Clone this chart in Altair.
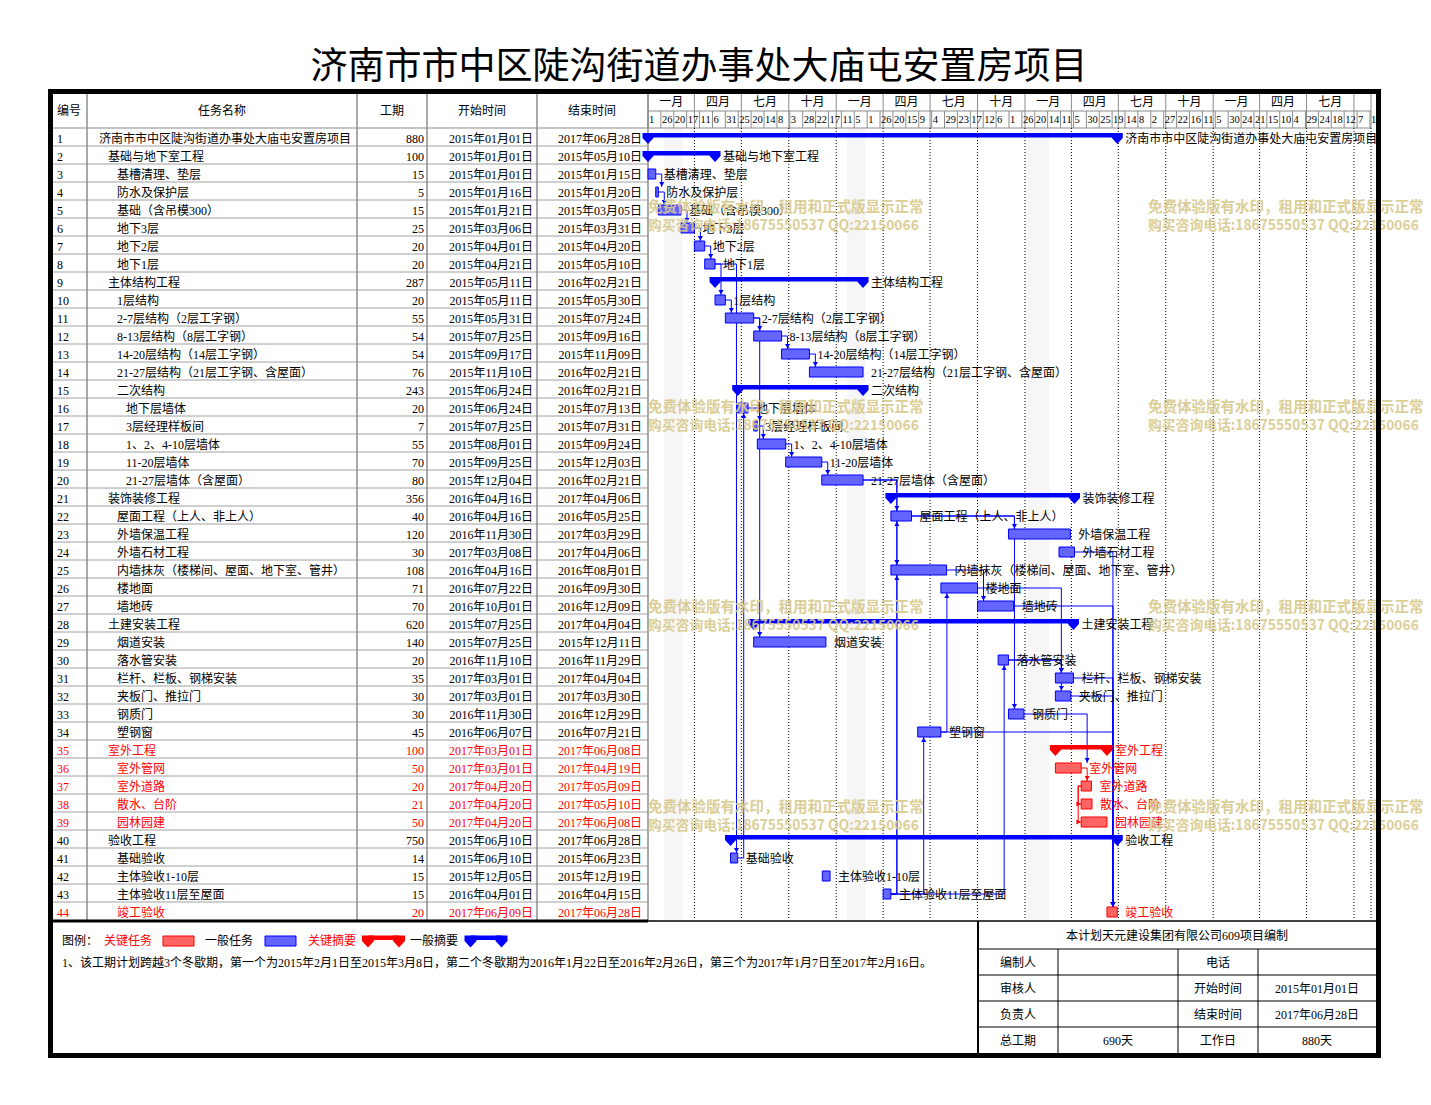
import altair as alt
import pandas as pd
import numpy as np

W, H = 1415, 1080
CJK = "Noto Sans CJK SC"
TXT = "Liberation Serif, Noto Sans CJK SC"
BLUE, RED = "#0000ff", "#ff0000"
BLUE_FILL, RED_FILL = "#6464ff", "#ff6464"
GRID = "#8c8c8c"
WM = "#d8c98c"

title_text = "济南市市中区陡沟街道办事处大庙屯安置房项目"

task_ids = list(range(1, 45))
task_names = [
    "济南市市中区陡沟街道办事处大庙屯安置房项目", "基础与地下室工程", "基槽清理、垫层", "防水及保护层",
    "基础（含吊模300）", "地下3层", "地下2层", "地下1层", "主体结构工程", "1层结构",
    "2-7层结构（2层工字钢）", "8-13层结构（8层工字钢）", "14-20层结构（14层工字钢）",
    "21-27层结构（21层工字钢、含屋面）", "二次结构", "地下层墙体", "3层经理样板间",
    "1、2、4-10层墙体", "11-20层墙体", "21-27层墙体（含屋面）", "装饰装修工程",
    "屋面工程（上人、非上人）", "外墙保温工程", "外墙石材工程",
    "内墙抹灰（楼梯间、屋面、地下室、管井）", "楼地面", "墙地砖", "土建安装工程", "烟道安装",
    "落水管安装", "栏杆、栏板、钢梯安装", "夹板门、推拉门", "钢质门", "塑钢窗", "室外工程",
    "室外管网", "室外道路", "散水、台阶", "园林园建", "验收工程", "基础验收", "主体验收1-10层",
    "主体验收11层至屋面", "竣工验收"]
task_levels = [0, 1, 2, 2, 2, 2, 2, 2, 1, 2, 2, 2, 2, 2, 2, 3, 3, 3, 3, 3, 1, 2, 2, 2, 2, 2, 2,
               1, 2, 2, 2, 2, 2, 2, 1, 2, 2, 2, 2, 1, 2, 2, 2, 2]
durations = [880, 100, 15, 5, 15, 25, 20, 20, 287, 20, 55, 54, 54, 76, 243, 20, 7, 55, 70, 80,
             356, 40, 120, 30, 108, 71, 70, 620, 140, 20, 35, 30, 30, 45, 100, 50, 20, 21, 50,
             750, 14, 15, 15, 20]
start_dates = [
    "2015-01-01", "2015-01-01", "2015-01-01", "2015-01-16", "2015-01-21", "2015-03-06",
    "2015-04-01", "2015-04-21", "2015-05-11", "2015-05-11", "2015-05-31", "2015-07-25",
    "2015-09-17", "2015-11-10", "2015-06-24", "2015-06-24", "2015-07-25", "2015-08-01",
    "2015-09-25", "2015-12-04", "2016-04-16", "2016-04-16", "2016-11-30", "2017-03-08",
    "2016-04-16", "2016-07-22", "2016-10-01", "2015-07-25", "2015-07-25", "2016-11-10",
    "2017-03-01", "2017-03-01", "2016-11-30", "2016-06-07", "2017-03-01", "2017-03-01",
    "2017-04-20", "2017-04-20", "2017-04-20", "2015-06-10", "2015-06-10", "2015-12-05",
    "2016-04-01", "2017-06-09"]
end_dates = [
    "2017-06-28", "2015-05-10", "2015-01-15", "2015-01-20", "2015-03-05", "2015-03-31",
    "2015-04-20", "2015-05-10", "2016-02-21", "2015-05-30", "2015-07-24", "2015-09-16",
    "2015-11-09", "2016-02-21", "2016-02-21", "2015-07-13", "2015-07-31", "2015-09-24",
    "2015-12-03", "2016-02-21", "2017-04-06", "2016-05-25", "2017-03-29", "2017-04-06",
    "2016-08-01", "2016-09-30", "2016-12-09", "2017-04-04", "2015-12-11", "2016-11-29",
    "2017-04-04", "2017-03-30", "2016-12-29", "2016-07-21", "2017-06-08", "2017-04-19",
    "2017-05-09", "2017-05-10", "2017-06-08", "2017-06-28", "2015-06-23", "2015-12-19",
    "2016-04-15", "2017-06-28"]
summary_ids = [1, 2, 9, 15, 21, 28, 35, 40]
critical_ids = [35, 36, 37, 38, 39, 44]

fs_links = [(3, 4), (4, 5), (5, 6), (6, 7), (7, 8), (8, 10), (8, 41), (41, 16), (10, 11),
            (11, 12), (12, 13), (13, 14), (11, 29), (16, 17), (17, 18), (18, 19), (19, 20),
            (20, 22), (20, 25), (43, 22), (43, 25), (43, 34), (43, 30), (22, 23), (22, 33),
            (25, 27), (34, 26), (26, 31), (30, 31), (30, 32), (36, 37), (24, 44), (27, 44),
            (31, 44), (32, 44), (34, 44)]
ff_links = [(33, 36)]
ss_links = [(37, 38), (37, 39)]

winter_starts = ["2015-02-01", "2016-01-22", "2017-01-07"]
winter_ends = ["2015-03-08", "2016-02-26", "2017-02-16"]

quarter_labels = ["一月", "四月", "七月", "十月", "一月", "四月", "七月", "十月",
                  "一月", "四月", "七月", "十月", "一月", "四月", "七月", ""]
day_labels = [1, 26, 20, 17, 11, 6, 31, 25, 20, 14, 8, 3, 28, 22, 17, 11, 5, 1, 26, 20, 15, 9,
              4, 29, 23, 17, 12, 6, 1, 26, 20, 14, 11, 5, 30, 25, 19, 14, 8, 2, 27, 22, 16, 11,
              5, 30, 24, 21, 15, 10, 4, 29, 24, 18, 12, 7, 1]

header_labels = ["编号", "任务名称", "工期", "开始时间", "结束时间"]
legend_note = ("1、该工期计划跨越3个冬歇期，第一个为2015年2月1日至2015年3月8日，第二个冬歇期为2016年1月22日"
               "至2016年2月26日，第三个为2017年1月7日至2017年2月16日。")
info_title = "本计划天元建设集团有限公司609项目编制"
info_cells = [["编制人", "", "电话", ""],
              ["审核人", "", "开始时间", "2015年01月01日"],
              ["负责人", "", "结束时间", "2017年06月28日"],
              ["总工期", "690天", "工作日", "880天"]]
wm_line1 = "免费体验版有水印，租用和正式版显示正常"
wm_line2 = "购买咨询电话:18675550537 QQ:22150066"

DOMAIN_END = pd.Timestamp("2018-11-03")

# ---------------------------------------------------------------- scales
XP = alt.Scale(domain=[0, W], range=[0, W], nice=False, zero=False)
YP = alt.Scale(domain=[0, H], range=[0, H], nice=False, zero=False)
ROW0, ROWH = 111.0, 18.0
YR = alt.Scale(domain=[-ROW0 / ROWH, (H - ROW0) / ROWH], range=[0, H], nice=False, zero=False)
XT = alt.Scale(type="utc",
               domain=[alt.DateTime(year=2015, month=1, date=1, utc=True),
                       alt.DateTime(year=2018, month=11, date=3, utc=True)],
               range=[640, 1363], nice=False)


def iso(ts):
    return pd.Timestamp(ts).strftime("%Y-%m-%dT%H:%M:%SZ")


def cn_date(ts):
    ts = pd.Timestamp(ts)
    return f"{ts.year}年{ts.month:02d}月{ts.day:02d}日"


# ---------------------------------------------------------------- task table
tasks = pd.DataFrame({"id": task_ids, "name": task_names, "level": task_levels,
                      "dur": durations, "start": start_dates, "end": end_dates})
s_dt = pd.to_datetime(tasks["start"])
e_dt = pd.to_datetime(tasks["end"]) + pd.Timedelta(days=1)
tasks["row"] = tasks["id"].astype(float)
tasks["s"] = s_dt.map(iso)
tasks["e"] = e_dt.map(iso)
tasks["is_sum"] = tasks["id"].isin(summary_ids)
tasks["crit"] = tasks["id"].isin(critical_ids)
tasks["tc"] = np.where(tasks["crit"], RED, "black")
tasks["fillc"] = np.where(tasks["crit"], RED_FILL, BLUE_FILL)
tasks["linec"] = np.where(tasks["crit"], RED, BLUE)
tasks["nx"] = 91 + 9 * tasks["level"]
tasks["id_txt"] = tasks["id"].astype(str)
tasks["dur_txt"] = tasks["dur"].astype(str)
tasks["start_txt"] = [cn_date(d) for d in tasks["start"]]
tasks["end_txt"] = [cn_date(d) for d in tasks["end"]]

S = dict(zip(tasks["id"], s_dt))
E = dict(zip(tasks["id"], e_dt))

# ---------------------------------------------------------------- links
GAP = pd.Timedelta(hours=278)
HALF = 4.5 / ROWH
AR = 2.8 / ROWH
BAR_SHIFT = 1.0 / ROWH
segs, arrows = [], []


def lcol(p, s):
    return RED if (p in critical_ids and s in critical_ids) else BLUE


for p, s in fs_links + ff_links:
    if (p, s) in ff_links:
        xv = max(E[p], E[s]) + GAP
    else:
        xv = max(E[p], S[s]) + GAP
    c = lcol(p, s)
    sign = 1 if s > p else -1
    yend = s + BAR_SHIFT - sign * (HALF + 0.5 / ROWH)
    segs.append((iso(E[p]), iso(xv), p + BAR_SHIFT, p + BAR_SHIFT, c))
    segs.append((iso(xv), iso(xv), p + BAR_SHIFT, yend, c))
    arrows.append((iso(xv), yend - sign * AR, "triangle-down" if sign > 0 else "triangle-up", c))

for p, s in ss_links:
    c = lcol(p, s)
    xv = S[p] - GAP / 2
    segs.append((iso(xv), iso(S[p]), p + BAR_SHIFT, p + BAR_SHIFT, c))
    segs.append((iso(xv), iso(xv), p + BAR_SHIFT, s + BAR_SHIFT, c))
    segs.append((iso(xv), iso(S[s]), s + BAR_SHIFT, s + BAR_SHIFT, c))
    arrows.append((iso(S[s] - pd.Timedelta(hours=120)), s + BAR_SHIFT, "triangle-right", c))

seg_df = pd.DataFrame(segs, columns=["x0", "x1", "y0", "y1", "c"])
arr_df = pd.DataFrame(arrows, columns=["x", "y", "shape", "c"])

# ---------------------------------------------------------------- timeline header
q_starts = list(pd.date_range("2015-01-01", "2018-10-01", freq="QS"))
q_next = q_starts[1:] + [DOMAIN_END]
q_df = pd.DataFrame({"d": [iso(d) for d in q_starts],
                     "mid": [iso(a + (b - a) / 2) for a, b in zip(q_starts, q_next)],
                     "lab": quarter_labels})
tick_dates = list(pd.date_range("2015-01-01", periods=len(day_labels), freq="25D"))
d_df = pd.DataFrame({"d": [iso(d) for d in tick_dates], "lab": [str(v) for v in day_labels]})
body_lines = pd.DataFrame({"d": [iso(d) for d in q_starts[1:]] + [iso(DOMAIN_END)]})
head_v = pd.DataFrame({"d": [iso(d) for d in q_starts] + [iso(DOMAIN_END)]})
winter_df = pd.DataFrame({"s": [iso(d) for d in winter_starts],
                          "e": [iso(pd.Timestamp(d) + pd.Timedelta(days=1)) for d in winter_ends]})


# ---------------------------------------------------------------- helpers
def prules(rows, color, width, dash=None):
    df = pd.DataFrame(rows, columns=["x0", "x1", "y0", "y1"])
    kw = dict(color=color, strokeWidth=width)
    if dash is not None:
        kw["strokeDash"] = dash
    return alt.Chart(df).mark_rule(**kw).encode(
        x=alt.X("x0:Q", scale=XP, axis=None), x2="x1:Q",
        y=alt.Y("y0:Q", scale=YP, axis=None), y2="y1:Q")


def ptext(rows, align="left", size=12, font=TXT, weight="normal", color="black", opacity=1.0):
    df = pd.DataFrame(rows, columns=["x", "y", "t"])
    return alt.Chart(df).mark_text(align=align, baseline="middle", fontSize=size, font=font,
                                   fontWeight=weight, color=color, opacity=opacity).encode(
        x=alt.X("x:Q", scale=XP, axis=None), y=alt.Y("y:Q", scale=YP, axis=None), text="t:N")


def prect(rows, fill, stroke, width=1.0):
    df = pd.DataFrame(rows, columns=["x0", "x1", "y0", "y1"])
    return alt.Chart(df).mark_rect(fill=fill, stroke=stroke, strokeWidth=width).encode(
        x=alt.X("x0:Q", scale=XP, axis=None), x2="x1:Q",
        y=alt.Y("y0:Q", scale=YP, axis=None), y2="y1:Q")


PENT = "M-1,-1L1,-1L1,-0.1L0,1L-1,-0.1Z"


def psummary(x0, x1, ytop, color):
    bar = prect([(x0, x1, ytop, ytop + 4.5)], color, color, 0)
    pts = pd.DataFrame({"x": [x0, x1], "y": [ytop + 6, ytop + 6]})
    tri = alt.Chart(pts).mark_point(shape=PENT, size=144, filled=True, opacity=1,
                                    color=color, strokeWidth=0).encode(
        x=alt.X("x:Q", scale=XP, axis=None), y=alt.Y("y:Q", scale=YP, axis=None))
    return [bar, tri]


layers = []

# winter break bands
layers.append(alt.Chart(winter_df).mark_rect(fill="#e2e2e2", opacity=0.3).encode(
    x=alt.X("s:T", scale=XT, axis=None), x2="e:T",
    y=alt.value(120), y2=alt.value(912)))

# table grid
row_lines = pd.DataFrame({"b": [k + 0.5 for k in range(1, 44)]})
layers.append(alt.Chart(row_lines).mark_rule(color="#a0a0a0", strokeWidth=1).encode(
    x=alt.value(45), x2=alt.value(640), y=alt.Y("b:Q", scale=YR, axis=None)))
layers.append(prules([(cx, cx, 85, 913) for cx in [79, 349, 419, 529, 640]], GRID, 1.5))
layers.append(prules([(45, 1363, 120, 120), (640, 1363, 103, 103)], GRID, 1.2))

# timeline header cells
layers.append(alt.Chart(head_v).mark_rule(color=GRID, strokeWidth=1).encode(
    x=alt.X("d:T", scale=XT, axis=None), y=alt.value(85), y2=alt.value(103)))
layers.append(alt.Chart(d_df).mark_rule(color=GRID, strokeWidth=1).encode(
    x=alt.X("d:T", scale=XT, axis=None), y=alt.value(103), y2=alt.value(120)))
layers.append(alt.Chart(head_v).mark_rule(color=GRID, strokeWidth=1).encode(
    x=alt.X("d:T", scale=XT, axis=None), y=alt.value(103), y2=alt.value(120)))
layers.append(alt.Chart(body_lines).mark_rule(color="black", strokeWidth=1, strokeDash=[1, 2]).encode(
    x=alt.X("d:T", scale=XT, axis=None), y=alt.value(120), y2=alt.value(912)))
layers.append(alt.Chart(q_df).mark_text(fontSize=12, font=CJK, baseline="middle", align="center").encode(
    x=alt.X("mid:T", scale=XT, axis=None), y=alt.value(94), text="lab:N"))
layers.append(alt.Chart(d_df).mark_text(fontSize=10.5, font=TXT, baseline="middle", align="left", dx=1).encode(
    x=alt.X("d:T", scale=XT, axis=None), y=alt.value(112), text="lab:N"))

# table header texts
layers.append(ptext([(49, 103, header_labels[0])], "left", 12))
layers.append(ptext([(214, 103, header_labels[1]), (384, 103, header_labels[2]),
                     (474, 103, header_labels[3]), (584, 103, header_labels[4])], "center", 12))


# table body texts
def col_text(field, x=None, xfield=None, align="left"):
    enc = dict(y=alt.Y("row:Q", scale=YR, axis=None), text=f"{field}:N",
               color=alt.Color("tc:N", scale=None))
    if xfield is not None:
        enc["x"] = alt.X(f"{xfield}:Q", scale=XP, axis=None)
    else:
        enc["x"] = alt.value(x)
    return alt.Chart(tasks).mark_text(fontSize=12, font=TXT, baseline="middle", align=align,
                                      dy=1.5).encode(**enc)


layers.append(col_text("id_txt", x=49))
layers.append(col_text("name", xfield="nx"))
layers.append(col_text("dur_txt", x=416, align="right"))
layers.append(col_text("start_txt", x=525, align="right"))
layers.append(col_text("end_txt", x=634, align="right"))

# links
layers.append(alt.Chart(seg_df).mark_rule(strokeWidth=1).encode(
    x=alt.X("x0:T", scale=XT, axis=None), x2="x1:T",
    y=alt.Y("y0:Q", scale=YR, axis=None), y2="y1:Q",
    color=alt.Color("c:N", scale=None)))

# task bars
plain = tasks[~tasks["is_sum"]]
layers.append(alt.Chart(plain).mark_rect(strokeWidth=1, yOffset=-4, y2Offset=6).encode(
    x=alt.X("s:T", scale=XT, axis=None), x2="e:T",
    y=alt.Y("row:Q", scale=YR, axis=None), y2="row:Q",
    fill=alt.Fill("fillc:N", scale=None), stroke=alt.Stroke("linec:N", scale=None)))

# summary bars
summ = tasks[tasks["is_sum"]]
layers.append(alt.Chart(summ).mark_rect(yOffset=-4, y2Offset=0.5).encode(
    x=alt.X("s:T", scale=XT, axis=None), x2="e:T",
    y=alt.Y("row:Q", scale=YR, axis=None), y2="row:Q",
    fill=alt.Fill("linec:N", scale=None)))
summ_pts = pd.concat([
    pd.DataFrame({"d": summ["s"], "row": summ["row"], "c": summ["linec"]}),
    pd.DataFrame({"d": summ["e"], "row": summ["row"], "c": summ["linec"]})])
layers.append(alt.Chart(summ_pts).mark_point(shape=PENT, size=121, filled=True, opacity=1,
                                             strokeWidth=0, yOffset=1.5).encode(
    x=alt.X("d:T", scale=XT, axis=None), y=alt.Y("row:Q", scale=YR, axis=None),
    color=alt.Color("c:N", scale=None)))

# arrow heads
layers.append(alt.Chart(arr_df).mark_point(filled=True, size=26, opacity=1, strokeWidth=0).encode(
    x=alt.X("x:T", scale=XT, axis=None), y=alt.Y("y:Q", scale=YR, axis=None),
    shape=alt.Shape("shape:N", scale=None), color=alt.Color("c:N", scale=None)))

# bar labels
layers.append(alt.Chart(tasks).mark_text(fontSize=12, font=TXT, baseline="middle", align="left",
                                         dx=8, dy=1.5).encode(
    x=alt.X("e:T", scale=XT, axis=None), y=alt.Y("row:Q", scale=YR, axis=None),
    text="name:N", color=alt.Color("tc:N", scale=None)))

# bottom area: legend + note
layers.append(ptext([(54, 933, "图例：")], "left", 12))
layers.append(ptext([(96, 933, "关键任务"), (300, 933, "关键摘要")], "left", 12, color=RED))
layers.append(ptext([(197, 933, "一般任务"), (402, 933, "一般摘要")], "left", 12))
layers.append(prect([(155, 186, 928, 938)], RED_FILL, RED))
layers.append(prect([(257, 288, 928, 938)], BLUE_FILL, BLUE))
layers += psummary(360, 391, 927.5, RED)
layers += psummary(462.5, 493.5, 927.5, BLUE)
layers.append(ptext([(54, 955, legend_note)], "left", 12))

# bottom separators and info table
layers.append(prules([(45, 640, 913, 913)], "black", 3))
layers.append(prules([(640, 1368, 913, 913)], "black", 1.5))
layers.append(prules([(970, 970, 913, 1046)], "black", 2))
layers.append(prules([(970, 1368, yy, yy) for yy in [941, 967, 993, 1019]], "black", 1))
layers.append(prules([(xx, xx, 941, 1046) for xx in [1050, 1170, 1250]], "black", 1))
layers.append(ptext([(1169, 928, info_title)], "center", 12))
info_rows = []
for r, cells in enumerate(info_cells):
    for cx, t in zip([1010, 1110, 1210, 1309], cells):
        if t:
            info_rows.append((cx, 955 + 26 * r, t))
layers.append(ptext(info_rows, "center", 12))

# watermark
wm1, wm2 = [], []
for wy in [200, 400, 600, 800]:
    for wx in [640, 1140]:
        wm1.append((wx, wy, wm_line1))
        wm2.append((wx, wy + 18, wm_line2))
layers.append(ptext(wm1, "left", 14.5, font=CJK, weight="bold", color=WM, opacity=0.9))
layers.append(ptext(wm2, "left", 13.8, font=CJK, weight="bold", color=WM, opacity=0.9))

# title
layers.append(ptext([(691, 60, title_text)], "center", 37, font=CJK))

# outer frame
layers.append(alt.Chart(pd.DataFrame({"a": [0]})).mark_rect(
    fillOpacity=0, stroke="black", strokeWidth=5).encode(
    x=alt.value(42.5), x2=alt.value(1370.5), y=alt.value(83.5), y2=alt.value(1047.5)))

chart = alt.layer(*layers).resolve_scale(x="independent", y="independent").properties(
    width=W, height=H, autosize="none", padding=0, background="white"
).configure_view(strokeWidth=0)

chart.save("out.html", embed_options={"renderer": "svg", "actions": False})
